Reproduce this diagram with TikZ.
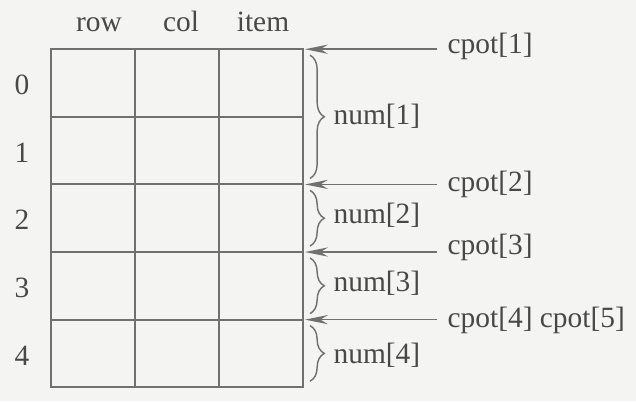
\documentclass[tikz,border=0pt]{standalone}
\usepackage{fontspec}
\setmainfont{Liberation Serif}
\usetikzlibrary{arrows.meta,positioning,calc,decorations.pathreplacing}

\definecolor{inkgray}{RGB}{112,112,112}
\definecolor{txtgray}{RGB}{72,72,72}
\definecolor{paper}{RGB}{244,244,242}

\begin{document}
\begin{tikzpicture}[x=0.35pt,y=-0.35pt,
    cell/.style={draw=inkgray, line width=0.7pt, minimum width=29.4pt,
                 minimum height=23.66pt, inner sep=0pt, outer sep=0pt},
    lbl/.style={text=txtgray, font=\fontsize{10.3}{12}\selectfont, inner sep=0pt},
    ptrlbl/.style={lbl, anchor=west, inner xsep=3.5pt},
    ptr/.style={draw=inkgray, line width=0.6pt, -{Stealth[length=8pt,width=3.2pt]}},
    brc/.style={draw=inkgray, line width=0.5pt, decorate,
                decoration={brace, amplitude=5pt}}]
    % background sheet
    \fill[paper] (0,0) rectangle (636,401);
    % the table
    \foreach \r in {0,...,4} {
        \foreach \k in {1,2,3} {
            \node[cell] (c\r\k) at ({93+84*(\k-1)}, {83+67.6*\r}) {};
        }
        \node[lbl] (r\r) at (22, {85+67.6*\r}) {\r};
    }
    \foreach \c [count=\k] in {row,col,item}
        \node[lbl, anchor=base] (h\k) at ({99+82*(\k-1)}, 31) {\c};
    % pointers
    \node[ptrlbl] (cp1) at (437, 46) {cpot[1]};
    \node[ptrlbl] (cp2) at (437, 184) {cpot[2]};
    \node[ptrlbl] (cp3) at (437, 247) {cpot[3]};
    \node[ptrlbl] (cp4) at (437, 320) {cpot[4] cpot[5]};
    \draw[ptr] (cp1.west |- c03.north east) -- ([xshift=0.7pt]c03.north east);
    \draw[ptr] (cp2.west |- c23.north east) -- ([xshift=0.7pt]c23.north east);
    \draw[ptr] (cp3.west |- c33.north east) -- ([xshift=0.7pt]c33.north east);
    \draw[ptr] (cp4.west |- c43.north east) -- ([xshift=0.7pt]c43.north east);
    % counts
    \draw[brc] ($(c03.north east)+(7,6)$) -- ($(c13.south east)+(7,-6)$);
    \draw[brc] ($(c23.north east)+(7,6)$) -- ($(c23.south east)+(7,-6)$);
    \draw[brc] ($(c33.north east)+(7,6)$) -- ($(c33.south east)+(7,-6)$);
    \draw[brc] ($(c43.north east)+(7,6)$) -- ($(c43.south east)+(7,-6)$);
    \node[lbl, anchor=west] (n1) at (333, 116) {num[1]};
    \node[lbl, anchor=west] (n2) at (333, 215) {num[2]};
    \node[lbl, anchor=west] (n3) at (333, 283) {num[3]};
    \node[lbl, anchor=west] (n4) at (333, 355) {num[4]};
\end{tikzpicture}
\end{document}
